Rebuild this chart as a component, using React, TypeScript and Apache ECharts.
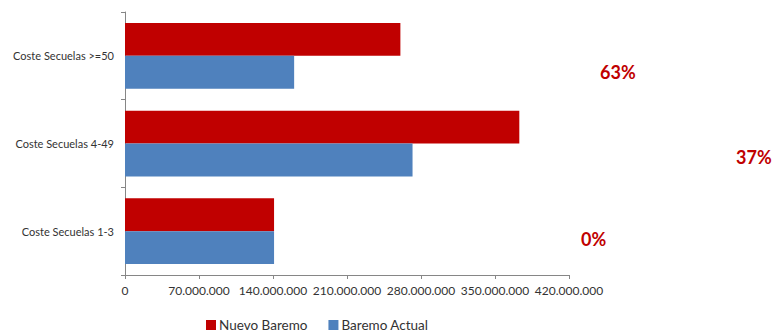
import React, { useEffect, useRef } from "react";
import * as echarts from "echarts";

const categories = ["Coste Secuelas 1-3", "Coste Secuelas 4-49", "Coste Secuelas >=50"];
const nuevoBaremo = [141000000, 373000000, 260500000];
const baremoActual = [141000000, 272000000, 160000000];
const xTicks = [0, 70000000, 140000000, 210000000, 280000000, 350000000, 420000000];
const percentLabels = ["63%", "37%", "0%"];

const FONT = "Lato, 'Open Sans', sans-serif";

function fmt(v: number): string {
  const s = Math.round(v).toString();
  return s.replace(/\B(?=(\d{3})+(?!\d))/g, ".");
}

export default function App() {
  const ref = useRef<HTMLDivElement>(null);
  useEffect(() => {
    if (!ref.current) return;
    const chart = echarts.init(ref.current, null, { renderer: "svg" });
    chart.setOption({
      animation: false,
      textStyle: { fontFamily: FONT },
      grid: { left: 125, right: 204, top: 12, bottom: 59, containLabel: false },
      legend: {
        data: ["Nuevo Baremo", "Baremo Actual"],
        left: 206,
        top: 318,
        padding: 0,
        icon: "rect",
        itemWidth: 10,
        itemHeight: 10,
        itemGap: 21,
        textStyle: { fontSize: 13.5, lineHeight: 14, color: "#333333", fontFamily: FONT, padding: [0, 0, 0, -2] },
      },
      xAxis: {
        type: "value",
        min: xTicks[0],
        max: xTicks[xTicks.length - 1],
        interval: xTicks[1] - xTicks[0],
        axisLine: { show: true, lineStyle: { color: "#868686", width: 1 } },
        axisTick: { show: true, length: 4, lineStyle: { color: "#868686" } },
        splitLine: { show: false },
        axisLabel: {
          formatter: (v: number) => fmt(v),
          fontSize: 12,
          color: "#333333",
          margin: 9,
          fontFamily: FONT,
        },
      },
      yAxis: {
        type: "category",
        data: categories,
        axisLine: { show: true, lineStyle: { color: "#868686", width: 1 } },
        axisTick: { show: true, length: 4, lineStyle: { color: "#868686" } },
        axisLabel: { fontSize: 11, color: "#333333", margin: 11, fontFamily: FONT },
      },
      series: [
        {
          name: "Nuevo Baremo",
          type: "bar",
          data: nuevoBaremo,
          barGap: "0%",
          barCategoryGap: "25%",
          itemStyle: { color: "#C00000" },
        },
        {
          name: "Baremo Actual",
          type: "bar",
          data: baremoActual,
          barGap: "0%",
          barCategoryGap: "25%",
          itemStyle: { color: "#4F81BD" },
        },
      ],
      graphic: [
        { type: "text", x: 600, y: 72, style: { text: percentLabels[0], fill: "#C00000", font: `bold 18px ${FONT}`, textVerticalAlign: "middle" } },
        { type: "text", x: 736, y: 157, style: { text: percentLabels[1], fill: "#C00000", font: `bold 18px ${FONT}`, textVerticalAlign: "middle" } },
        { type: "text", x: 581, y: 239, style: { text: percentLabels[2], fill: "#C00000", font: `bold 18px ${FONT}`, textVerticalAlign: "middle" } },
      ],
    });
    return () => chart.dispose();
  }, []);
  return <div ref={ref} style={{ width: 773, height: 334, position: "absolute", left: 0, top: 0 }} />;
}
